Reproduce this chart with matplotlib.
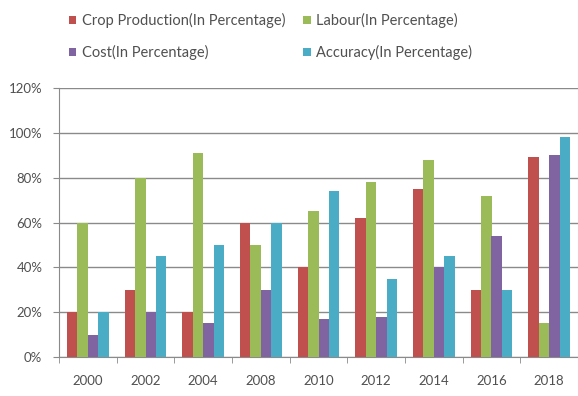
import matplotlib.pyplot as plt
import numpy as np
from matplotlib.ticker import FuncFormatter

years = ['2000', '2002', '2004', '2008', '2010', '2012', '2014', '2016', '2018']
crop = [20, 30, 20, 60, 40, 62, 75, 30, 89]
labour = [60, 80, 91, 50, 65, 78, 88, 72, 15]
cost = [10, 20, 15, 30, 17, 18, 40, 54, 90]
accuracy = [20, 45, 50, 60, 74, 35, 45, 30, 98]

names = ['Crop Production(In Percentage)', 'Labour(In Percentage)',
         'Cost(In Percentage)', 'Accuracy(In Percentage)']
colors = ['#C0504D', '#9BBB59', '#8064A2', '#4BACC6']

plt.rcParams['font.family'] = ['Lato', 'DejaVu Sans']
txt = '#505050'

fig = plt.figure(figsize=(5.78, 3.96), dpi=100)
ax = fig.add_axes([59/578, 1 - 357/396, 519/578, 269/396])

x = np.arange(len(years))
w = 0.18
bars = []
for i, (vals, c) in enumerate(zip([crop, labour, cost, accuracy], colors)):
    b = ax.bar(x + (i - 1.5) * w, vals, w, color=c, zorder=3)
    bars.append(b)

ax.set_xlim(-0.5, len(years) - 0.5)
ax.set_ylim(0, 120)
ax.set_yticks(range(0, 121, 20))
ax.yaxis.set_major_formatter(FuncFormatter(lambda v, p: f'{int(v)}%'))
ax.grid(axis='y', color='#8a8a8a', linewidth=1, zorder=0)

ax.set_xticks(x)
ax.set_xticklabels(years)
ax.set_xticks(np.arange(-0.5, len(years) + 0.5, 1), minor=True)
ax.tick_params(axis='x', which='major', length=0, pad=13)
ax.tick_params(axis='x', which='minor', length=4, color='#8a8a8a')
ax.tick_params(axis='y', length=4, color='#8a8a8a', pad=8)
ax.tick_params(labelsize=9.5, labelcolor=txt)

for s in ['top', 'right']:
    ax.spines[s].set_visible(False)
for s in ['left', 'bottom']:
    ax.spines[s].set_color('#8a8a8a')

# two rows: crop/labour then cost/accuracy
order = [0, 2, 1, 3]
fig.legend([bars[i] for i in order], [names[i] for i in order],
           ncol=2, loc='upper left', bbox_to_anchor=(56/578, 1 - 0/396),
           frameon=False, fontsize=10.5, handlelength=0.5, handleheight=0.5,
           handletextpad=0.35, columnspacing=1.25, labelspacing=1.15,
           labelcolor=txt)

fig.savefig('out.png', dpi=100)
